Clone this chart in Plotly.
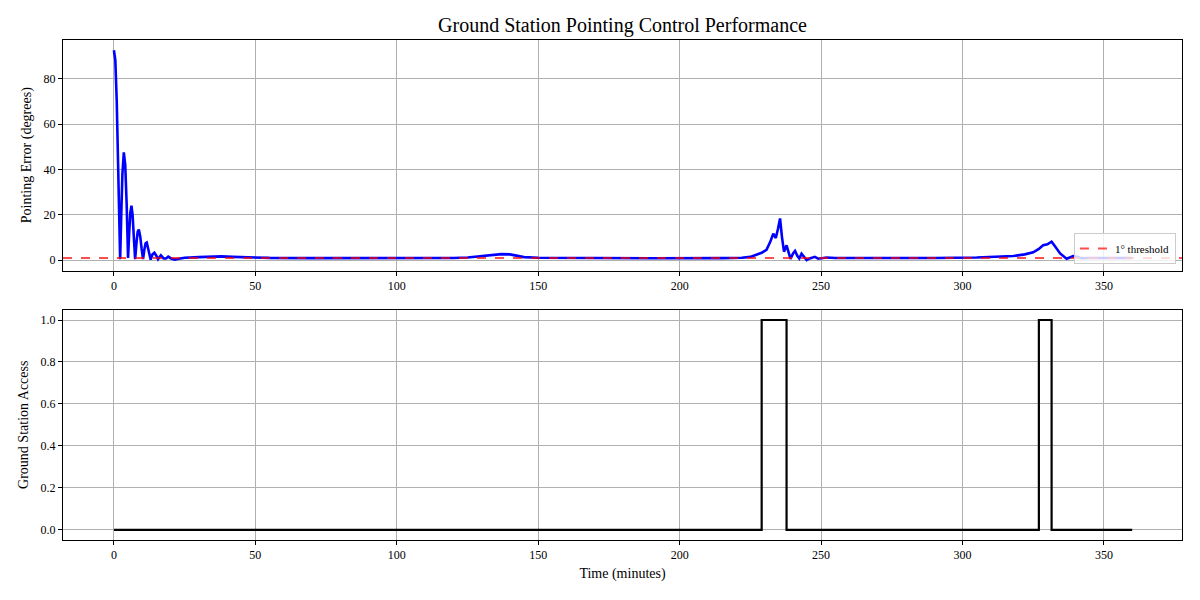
import plotly.graph_objects as go
from plotly.subplots import make_subplots

# Pointing error (degrees) vs time (minutes)
time_err = [0, 0.5, 1.0, 1.5, 2.0, 2.2, 2.6, 3.0, 3.5, 4.0, 4.5, 5.0, 5.4, 5.8, 6.2, 6.6, 7.0, 7.5,
            8.0, 8.4, 8.8, 9.3, 9.8, 10.3, 10.8, 11.2, 11.6, 12.1, 12.6, 13.0, 13.6, 14.3, 15.0, 15.6,
            16.6, 17.6, 18.4, 19.2, 20.2, 21.5, 23, 25, 30, 35, 38, 42, 48, 55, 70, 90, 110, 120,
            125, 128, 131, 134, 137, 140, 142, 145, 150, 165, 190, 215, 222, 225, 227, 229, 230.7,
            232, 233.1, 234, 234.8, 235.5, 236.2, 236.9, 237.8, 238.5, 239.2, 240.1, 240.8, 241.6,
            242.3, 243.1, 244, 244.9, 246, 247.8, 249, 250.5, 252, 255, 270, 290, 305, 313, 318,
            322, 325, 327, 328.5, 330, 331.5, 332.5, 334.5, 336.8, 338, 339.1, 340.5, 342, 345, 360]
pointing_error = [92.5, 88, 70, 40, 12, 0.5, 20, 38, 47.5, 42, 25, 1, 12, 21, 24, 20, 11, 0.5,
                  8, 12.5, 13.5, 10.5, 5, 0.5, 5, 7.5, 7.8, 5.5, 2.5, 0.3, 2.5, 3.3, 2, 0.5,
                  2.2, 0.8, 0.8, 1.6, 0.8, 0.3, 0.7, 1.1, 1.4, 1.6, 1.7, 1.5, 1.2, 1.05, 0.95, 0.9, 0.95, 1.0,
                  1.2, 1.6, 2.2, 2.6, 2.7, 2.6, 2.0, 1.4, 1.1, 0.95, 0.9, 0.95, 1.1, 1.5, 2.3, 3.3, 4.6,
                  8, 11.7, 9.8, 14, 18.4, 10, 3.8, 6.6, 3, 0.6, 3, 4.1, 2,
                  0.8, 2.9, 1.5, 0.1, 0.8, 1.5, 0.7, 0.9, 1.2, 1.0, 0.95, 1.0, 1.2, 1.5, 1.9,
                  2.6, 3.5, 5, 6.6, 7.0, 8.2, 6.5, 3, 0.7, 1.2, 1.8, 1.5, 0.9, 1.0, 1.0]

# Ground station access (0/1) step data
time_access = [0, 229, 237.8, 327, 331.5, 360]
access = [0, 1, 0, 1, 0, 0]

threshold_x = [-18, 378]
threshold_y = [1, 1]

x_ticks = [0, 50, 100, 150, 200, 250, 300, 350]

FONT = "Liberation Serif"

fig = make_subplots(rows=2, cols=1, vertical_spacing=0.078)

fig.add_trace(go.Scatter(x=time_err, y=pointing_error, mode="lines",
                         line=dict(color="blue", width=2.6), showlegend=False), row=1, col=1)
fig.add_trace(go.Scatter(x=threshold_x, y=threshold_y, mode="lines", name="1° threshold",
                         line=dict(color="rgba(255,0,0,0.7)", width=1.8, dash="dash")), row=1, col=1)
fig.add_trace(go.Scatter(x=time_access, y=access, mode="lines", line_shape="hv",
                         line=dict(color="black", width=2.2), showlegend=False), row=2, col=1)

axis_common = dict(showgrid=True, gridcolor="#b0b0b0", gridwidth=1, showline=True, linecolor="black",
                   linewidth=1, mirror=True, ticks="outside", ticklen=4, tickcolor="black",
                   zeroline=False, automargin=False,
                   tickfont=dict(family=FONT, size=12, color="black"))

fig.update_xaxes(**axis_common, range=[-18, 377.6], tickvals=x_ticks)
fig.update_yaxes(**axis_common)
fig.update_yaxes(range=[-4.5, 97.0], tickvals=[0, 20, 40, 60, 80],
                 title=dict(text="Pointing Error (degrees)", font=dict(family=FONT, size=14, color="black"),
                            standoff=8), row=1, col=1)
fig.update_yaxes(range=[-0.048, 1.05], tickvals=[0, 0.2, 0.4, 0.6, 0.8, 1.0], tickformat=".1f",
                 title=dict(text="Ground Station Access", font=dict(family=FONT, size=14, color="black"),
                            standoff=8), row=2, col=1)
fig.update_xaxes(title=dict(text="Time (minutes)", font=dict(family=FONT, size=14, color="black"),
                            standoff=6), row=2, col=1)

fig.update_layout(
    width=1200, height=600,
    margin=dict(l=55, r=26, t=32, b=68),
    plot_bgcolor="white", paper_bgcolor="white",
    title=dict(text="Ground Station Pointing Control Performance", x=0.5, xref="paper", xanchor="center",
               y=0.972, yanchor="middle", font=dict(family=FONT, size=20, color="black")),
    legend=dict(x=0.9946, y=0.552, xanchor="right", yanchor="bottom",
                bgcolor="rgba(255,255,255,0.8)", bordercolor="#cccccc", borderwidth=1,
                font=dict(family=FONT, size=11, color="black"), itemwidth=30),
    font=dict(family=FONT),
)

fig.write_html("out.html")
